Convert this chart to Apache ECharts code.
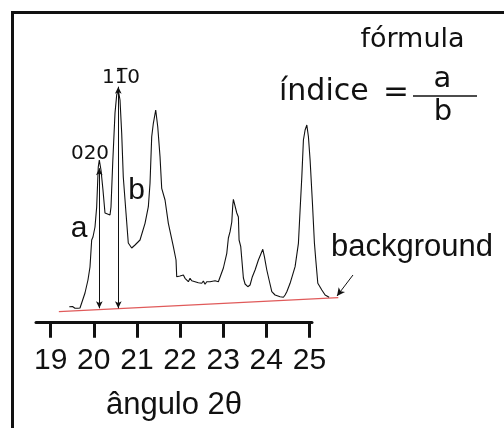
<!DOCTYPE html>
<html>
<head>
<meta charset="utf-8">
<script src="https://cdn.jsdelivr.net/npm/echarts@6/dist/echarts.min.js"></script>
<style>
  html, body { margin: 0; padding: 0; background: #fff; }
  #chart { width: 504px; height: 428px; }
</style>
</head>
<body>
<div id="chart"></div>
<script>
// Diffractogram: angle 2θ (degrees) and intensity (arbitrary counts)
const twoTheta = [
  19.432, 19.455, 19.471, 19.506, 19.564, 19.633, 19.680, 19.719, 19.796, 19.865,
  19.912, 19.951, 19.981, 20.028, 20.067, 20.104, 20.128, 20.167, 20.213, 20.260,
  20.299, 20.376, 20.399, 20.439, 20.492, 20.531, 20.568, 20.608, 20.647, 20.684,
  20.747, 20.800, 20.879, 20.956, 21.072, 21.188, 21.265, 21.304, 21.343, 21.381,
  21.436, 21.483, 21.536, 21.575, 21.652, 21.729, 21.845, 21.907, 21.923, 22.000,
  22.039, 22.077, 22.116, 22.155, 22.193, 22.232, 22.271, 22.309, 22.348, 22.387,
  22.425, 22.464, 22.503, 22.541, 22.580, 22.619, 22.657, 22.696, 22.735, 22.812,
  22.889, 22.928, 23.005, 23.084, 23.121, 23.160, 23.200, 23.223, 23.237, 23.316,
  23.353, 23.369, 23.408, 23.469, 23.508, 23.571, 23.624, 23.664, 23.677, 23.740,
  23.817, 23.919, 23.956, 24.012, 24.065, 24.128, 24.204, 24.320, 24.360, 24.397,
  24.436, 24.476, 24.552, 24.668, 24.745, 24.784, 24.824, 24.861, 24.900, 24.940,
  24.977, 25.016, 25.070, 25.116, 25.148, 25.195, 25.288, 25.364, 25.457
];
const intensity = [
  160, 177, 152, 162, 144, 144, 147, 197, 297, 427,
  557, 827, 857, 957, 1157, 1557, 1627, 1527, 1327, 1097,
  1077, 1077, 1157, 1597, 2097, 2277, 2327, 2227, 1897, 1457,
  1097, 797, 747, 777, 827, 994, 1160, 1394, 1860, 1994,
  2127, 1960, 1660, 1344, 1227, 994, 760, 627, 460, 467,
  454, 477, 444, 460, 410, 444, 420, 434, 410, 427,
  400, 420, 394, 417, 384, 410, 394, 410, 400, 420,
  410, 427, 547, 694, 847, 910, 1007, 1177, 1234, 1097,
  1057, 827, 760, 447, 387, 360, 377, 360, 460, 527,
  627, 734, 660, 527, 427, 310, 277, 260, 277, 254,
  277, 310, 394, 560, 794, 1127, 1460, 1827, 1927, 1977,
  1860, 1627, 1197, 797, 627, 394, 327, 277, 254
];

// Linear background under the pattern
const backgroundX = [19.19, 25.67];
const backgroundY = [110, 250];

// Peak-height arrows a (020) and b (1-10)
const arrowX = [20.128, 20.568];
const arrowTop = [1544, 2360];
const arrowBottom = [144, 144];

// Pointer to the background line
const pointerFrom = [26.01, 477];
const pointerTo = [25.64, 267];

const tickValues = [19, 20, 21, 22, 23, 24, 25];

// Axis extent shown with ticks, and the wider extent used by the plotted data
const AXIS_MIN = 18.66, AXIS_MAX = 25.06, DATA_MAX = 26.1;
const PX_PER_DEG = 43.125;
const GRID_LEFT = 36, GRID_TOP = 22.7, GRID_BOTTOM = 105.3, WIDTH = 504;

const SANS = "'Liberation Sans', Arial, sans-serif";
const DEJAVU = "'DejaVu Sans', sans-serif";

const chart = echarts.init(document.getElementById('chart'), null, { renderer: 'canvas' });

const curve = twoTheta.map((t, i) => [t, intensity[i]]);
const background = backgroundX.map((t, i) => [t, backgroundY[i]]);

const arrowLines = arrowX.map((t, i) => [
  { coord: [t, arrowBottom[i]] },
  { coord: [t, arrowTop[i]] }
]);

const axisRight = WIDTH - GRID_LEFT - (AXIS_MAX - AXIS_MIN) * PX_PER_DEG;
const dataRight = WIDTH - GRID_LEFT - (DATA_MAX - AXIS_MIN) * PX_PER_DEG;

chart.setOption({
  animation: false,
  backgroundColor: '#fff',
  grid: [
    { left: GRID_LEFT, right: axisRight, top: GRID_TOP, bottom: GRID_BOTTOM },
    { left: GRID_LEFT, right: dataRight, top: GRID_TOP, bottom: GRID_BOTTOM }
  ],
  xAxis: [
    {
      gridIndex: 0,
      type: 'value',
      min: AXIS_MIN,
      max: AXIS_MAX,
      name: 'ângulo 2θ',
      nameLocation: 'middle',
      nameGap: 67,
      nameTextStyle: { fontFamily: SANS, fontSize: 31, color: '#111' },
      axisLine: { show: true, onZero: false, lineStyle: { color: '#111', width: 3 } },
      axisTick: { show: true, customValues: tickValues, length: 15, lineStyle: { color: '#111', width: 3 } },
      axisLabel: { customValues: tickValues, margin: 23, fontFamily: SANS, fontSize: 30, color: '#111' },
      splitLine: { show: false }
    },
    {
      gridIndex: 1,
      type: 'value',
      min: AXIS_MIN,
      max: DATA_MAX,
      show: false
    }
  ],
  yAxis: [
    { gridIndex: 0, type: 'value', min: 0, max: 3000, show: false },
    { gridIndex: 1, type: 'value', min: 0, max: 3000, show: false }
  ],
  series: [
    {
      name: 'background',
      type: 'line',
      xAxisIndex: 1,
      yAxisIndex: 1,
      data: background,
      showSymbol: false,
      silent: true,
      lineStyle: { color: '#e05a5a', width: 1.2 },
      z: 2
    },
    {
      name: 'intensidade',
      type: 'line',
      xAxisIndex: 1,
      yAxisIndex: 1,
      data: curve,
      showSymbol: false,
      silent: true,
      lineStyle: { color: '#111', width: 1.1 },
      z: 3,
      markLine: {
        silent: true,
        symbol: ['arrow', 'arrow'],
        symbolSize: [5, 7],
        label: { show: false },
        lineStyle: { color: '#111', width: 1, type: 'solid' },
        data: arrowLines.concat([
          [
            { coord: pointerFrom, symbol: 'none' },
            { coord: pointerTo, symbol: 'arrow', symbolSize: [6, 8] }
          ]
        ])
      }
    }
  ],
  graphic: [
    {
      type: 'rect',
      shape: { x: 12.5, y: 12.5, width: 600, height: 600 },
      style: { fill: 'none', stroke: '#111', lineWidth: 3 },
      silent: true
    },
    {
      type: 'text', x: 412.5, y: 39.6,
      style: { text: 'fórmula', font: '27px ' + DEJAVU, fill: '#111', align: 'center', verticalAlign: 'middle' }
    },
    {
      type: 'text', x: 279, y: 92.7,
      style: { text: 'índice', font: '30px ' + DEJAVU, fill: '#111', align: 'left', verticalAlign: 'middle' }
    },
    {
      type: 'text', x: 396, y: 92.7,
      style: { text: '=', font: '31px ' + DEJAVU, fill: '#111', align: 'center', verticalAlign: 'middle' }
    },
    {
      type: 'text', x: 442.5, y: 79.3,
      style: { text: 'a', font: '29px ' + DEJAVU, fill: '#111', align: 'center', verticalAlign: 'middle' }
    },
    {
      type: 'line',
      shape: { x1: 413, y1: 96, x2: 477, y2: 96 },
      style: { stroke: '#111', lineWidth: 1.5 }
    },
    {
      type: 'text', x: 443, y: 112.7,
      style: { text: 'b', font: '29px ' + DEJAVU, fill: '#111', align: 'center', verticalAlign: 'middle' }
    },
    {
      type: 'text', x: 90, y: 154,
      style: { text: '020', font: '20px ' + DEJAVU, fill: '#111', align: 'center', verticalAlign: 'middle' }
    },
    {
      type: 'text', x: 121, y: 77.3,
      style: { text: '11\u03050', font: '20px ' + DEJAVU, fill: '#111', align: 'center', verticalAlign: 'middle' }
    },
    {
      type: 'text', x: 79, y: 228.3,
      style: { text: 'a', font: '30px ' + SANS, fill: '#111', align: 'center', verticalAlign: 'middle' }
    },
    {
      type: 'text', x: 136.7, y: 191,
      style: { text: 'b', font: '30px ' + SANS, fill: '#111', align: 'center', verticalAlign: 'middle' }
    },
    {
      type: 'text', x: 331, y: 247.4,
      style: { text: 'background', font: '31px ' + SANS, fill: '#111', align: 'left', verticalAlign: 'middle' }
    }
  ]
});
</script>
</body>
</html>
